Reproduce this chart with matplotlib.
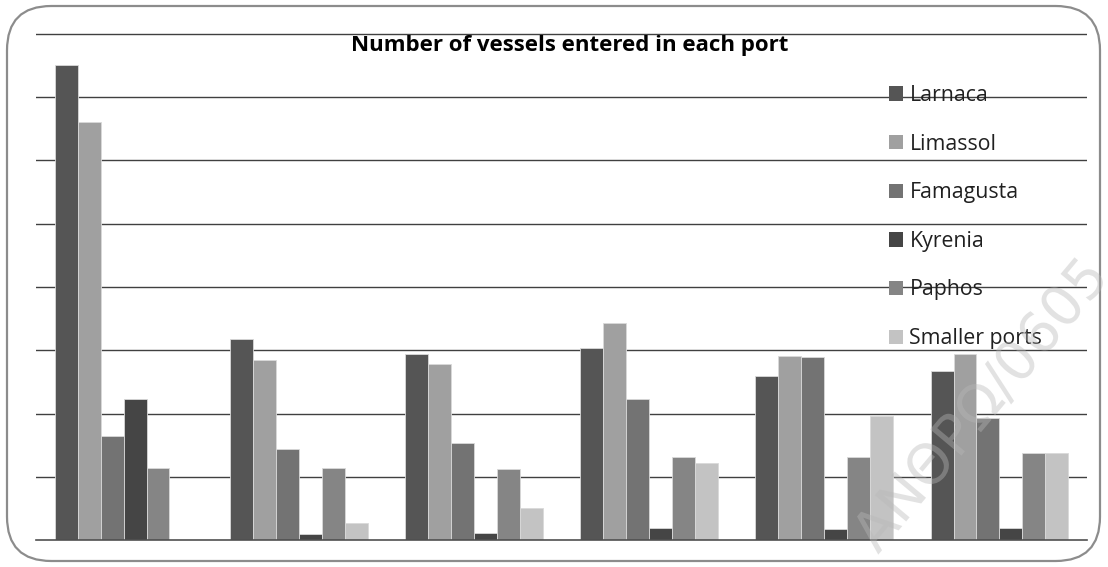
import matplotlib
matplotlib.use("Agg")
import matplotlib.pyplot as plt
from matplotlib.patches import FancyBboxPatch, Patch, PathPatch
from matplotlib.textpath import TextPath
from matplotlib.font_manager import FontProperties
from matplotlib.transforms import Affine2D
import numpy as np

groups = ["1", "2", "3", "4", "5", "6"]
series = ["Larnaca", "Limassol", "Famagusta", "Kyrenia", "Paphos", "Smaller ports"]
larnaca = [7.51, 3.18, 2.94, 3.04, 2.59, 2.68]
limassol = [6.60, 2.84, 2.78, 3.43, 2.91, 2.94]
famagusta = [1.65, 1.44, 1.54, 2.23, 2.90, 1.93]
kyrenia = [2.23, 0.10, 0.12, 0.20, 0.18, 0.20]
paphos = [1.14, 1.14, 1.12, 1.32, 1.32, 1.38]
smaller = [0.0, 0.28, 0.51, 1.22, 1.97, 1.38]
colors = ["#555555", "#a0a0a0", "#737373", "#454545", "#858585", "#c3c3c3"]
title = "Number of vessels entered in each port"
watermark = "ΑΝΘΡΩ/0605"

values = [larnaca, limassol, famagusta, kyrenia, paphos, smaller]

plt.rcParams['font.family'] = ['Open Sans', 'DejaVu Sans']

fig = plt.figure(figsize=(11.08, 5.67), dpi=100)
fig.patch.set_facecolor("white")

# rounded outer border
border = FancyBboxPatch((7/1108, 6/567), 1093/1108, 555/567,
                        boxstyle="round,pad=0,rounding_size=0.04",
                        transform=fig.transFigure, facecolor="none",
                        edgecolor="#8c8c8c", linewidth=1.6, mutation_aspect=1108/567)
fig.patches.append(border)

unit = 63.35
ymax = 8.05
ax = fig.add_axes([36/1108, 26.7/567, 1051/1108, unit * ymax / 567])
n = len(series)
x = np.arange(len(groups))
w = 0.131
for i, (name, vals, c) in enumerate(zip(series, values, colors)):
    ax.bar(x + (i - (n - 1) / 2) * w, vals, width=w, color=c,
           edgecolor="#d9d9d9", linewidth=0.6, zorder=3, label=name)

ax.set_xlim(-0.5, len(groups) - 0.5)
ax.set_ylim(0, ymax)
ax.set_yticks(np.arange(1, 9))
ax.yaxis.grid(True, color="#404040", linewidth=1.0, zorder=0)
ax.set_axisbelow(True)
ax.tick_params(left=False, bottom=False, labelleft=False, labelbottom=False)
for s in ["top", "right", "left"]:
    ax.spines[s].set_visible(False)
ax.spines["bottom"].set_color("#505050")
ax.spines["bottom"].set_linewidth(1.2)
ax.spines["bottom"].set_zorder(4)

fig.text(570/1108, 1 - 46/567, title, ha="center", va="center",
         fontsize=16, fontweight="bold", color="black")

handles = [Patch(facecolor=c, edgecolor="none") for c in colors]
leg = fig.legend(handles, series, loc="upper left",
                 bbox_to_anchor=(889/1108, 1 - 85/567), frameon=False,
                 fontsize=15.3, labelspacing=1.3, handlelength=0.66,
                 handleheight=0.66, handletextpad=0.3, borderpad=0,
                 borderaxespad=0)
for t in leg.get_texts():
    t.set_color("#202020")

# faint watermark (semi-transparent light gray letters)
tp = TextPath((0, 0), watermark, size=56, prop=FontProperties(family="DejaVu Sans"))
wm = PathPatch(tp, facecolor="#b8b8b8", edgecolor="none", alpha=0.4,
               transform=Affine2D().rotate_deg(50).translate(878, 12), zorder=10)
fig.patches.append(wm)

fig.savefig("out.png", dpi=100, facecolor="white")
